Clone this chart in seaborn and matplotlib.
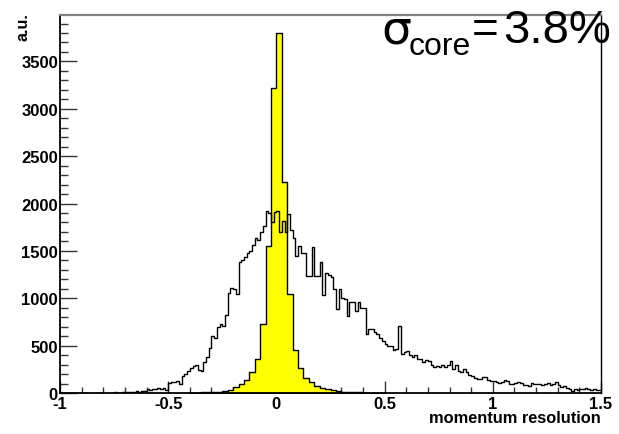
import numpy as np
import pandas as pd
import seaborn as sns
import matplotlib.pyplot as plt
from matplotlib.ticker import MultipleLocator, FixedLocator

# ---------------- data ----------------
# broad distribution: bins of 0.0125 from -1.0 to 1.5 (200 bins)
black_start = -1.0
black_width = 0.0125
black_counts = [
    0, 0, 0, 0, 0, 0, 0, 0,
    0, 0, 0, 0, 2, 0, 0, 3,
    4, 0, 5, 3, 8, 5, 0, 10,
    8, 12, 6, 15, 20, 12, 25, 18,
    40, 35, 45, 42, 50, 38, 55, 35,
    110, 120, 115, 130, 100, 180, 200, 230,
    260, 280, 300, 240, 230, 330, 380, 470,
    600, 580, 700, 730, 710, 820, 1060, 1110,
    1100, 1050, 1380, 1400, 1440, 1480, 1500, 1560,
    1640, 1620, 1700, 1760, 1920, 1900, 1800, 1910,
    1920, 1700, 1820, 1700, 1890, 1720, 1640, 1450,
    1550, 1480, 1480, 1240, 1240, 1540, 1240, 1230,
    1380, 1030, 1270, 1250, 1220, 1100, 890, 1100,
    1000, 990, 815, 960, 960, 870, 960, 900,
    900, 620, 680, 675, 640, 620, 580, 550,
    520, 500, 500, 450, 460, 710, 410, 430,
    446, 400, 380, 400, 360, 360, 330, 345,
    340, 300, 270, 290, 270, 300, 270, 300,
    340, 250, 300, 230, 220, 250, 220, 190,
    180, 160, 150, 150, 165, 170, 135, 130,
    125, 115, 110, 120, 135, 125, 100, 95,
    110, 115, 110, 85, 80, 75, 110, 100,
    90, 95, 80, 95, 110, 85, 100, 115,
    80, 60, 70, 50, 45, 25, 45, 30,
    45, 40, 50, 40, 35, 45, 30, 28,
]

# core distribution: bins of 0.025 from -0.4 to 0.5 (36 bins)
yellow_start = -0.4
yellow_width = 0.025
yellow_counts = [
    3, 5, 6, 10, 12, 15, 22, 35,
    60, 100, 140, 225, 360, 730, 1550, 3220,
    3800, 2225, 1040, 455, 265, 160, 115, 75,
    55, 40, 30, 20, 15, 10, 8, 6,
    5, 3, 2, 2,
]

xtick_values = [-1, -0.5, 0, 0.5, 1, 1.5]
xtick_labels = ['-1', '-0.5', '0', '0.5', '1', '1.5']
ytick_values = [0, 500, 1000, 1500, 2000, 2500, 3000, 3500]
ytick_labels = ['0', '500', '1000', '1500', '2000', '2500', '3000', '3500']
x_label = 'momentum resolution'
y_label = 'a.u.'
annot_value = '3.8%'

# ---------------- build tables ----------------
nb = len(black_counts)
black_edges = list(black_start + black_width * np.arange(nb + 1))
df_black = pd.DataFrame({'x': black_start + black_width * (np.arange(nb) + 0.5),
                         'w': black_counts})
ny = len(yellow_counts)
yellow_edges = list(yellow_start + yellow_width * np.arange(ny + 1))
df_yellow = pd.DataFrame({'x': yellow_start + yellow_width * (np.arange(ny) + 0.5),
                          'w': yellow_counts})

# ---------------- figure ----------------
sns.set_style('white')
plt.rcParams['font.family'] = ['Liberation Sans', 'DejaVu Sans']
plt.rcParams['text.color'] = 'black'
plt.rcParams['xtick.color'] = 'black'
plt.rcParams['ytick.color'] = 'black'

W, H = 619, 435
fig = plt.figure(figsize=(W / 100, H / 100), dpi=100)
ax = fig.add_axes([60 / W, 1 - 394 / H, (601 - 60) / W, (394 - 16) / H])

sns.histplot(data=df_yellow, x='x', weights='w', bins=yellow_edges,
             element='step', fill=True, color='#ffff00', edgecolor='black',
             linewidth=1.0, alpha=1, ax=ax, zorder=2)
sns.histplot(data=df_black, x='x', weights='w', bins=black_edges,
             element='step', fill=False, color='black', linewidth=1.0,
             ax=ax, zorder=3)

ax.set_xlim(-1, 1.5)
ax.set_ylim(0, 3990)
ax.set_xlabel('')
ax.set_ylabel('')

ax.xaxis.set_major_locator(FixedLocator(xtick_values))
ax.set_xticklabels(xtick_labels)
ax.xaxis.set_minor_locator(MultipleLocator(0.1))
ax.yaxis.set_major_locator(FixedLocator(ytick_values))
ax.set_yticklabels(ytick_labels)
ax.yaxis.set_minor_locator(MultipleLocator(100))

ax.tick_params(axis='x', which='both', direction='in', bottom=True, top=False,
               color='#333333', labelcolor='black', labelsize=12, pad=2.5, width=1)
ax.tick_params(axis='x', which='major', length=8.6)
ax.tick_params(axis='x', which='minor', length=4.3)
ax.tick_params(axis='y', which='both', direction='in', left=True, right=False,
               color='#333333', labelcolor='black', labelsize=12, pad=1.5, width=1)
ax.tick_params(axis='y', which='major', length=12)
ax.tick_params(axis='y', which='minor', length=5.8)
for lab in ax.get_xticklabels() + ax.get_yticklabels():
    lab.set_fontweight('bold')

for side in ['left', 'bottom', 'right']:
    ax.spines[side].set_color('black')
ax.spines['left'].set_linewidth(1.3)
ax.spines['bottom'].set_linewidth(1.3)
ax.spines['right'].set_linewidth(1.0)
ax.spines['top'].set_color('#808080')
ax.spines['top'].set_linewidth(1.6)

# axis titles
fig.text(601 / W, 1 - 423 / H, x_label, ha='right', va='baseline',
         fontsize=11.8, fontweight='bold', color='black')
fig.text(23 / W, 1 - 13 / H, y_label, ha='center', va='top', rotation=90,
         fontsize=11.5, fontweight='bold', color='black')

# sigma_core annotation
fig.text(381 / W, 1 - 43 / H, '\u03c3', ha='left', va='baseline',
         fontsize=34, family=['DejaVu Sans'], color='black')
fig.text(409 / W, 1 - 55 / H, 'core', ha='left', va='baseline', fontsize=23,
         color='black')
fig.text(472 / W, 1 - 43 / H, '=', ha='left', va='baseline', fontsize=33,
         color='black')
fig.text(503 / W, 1 - 43 / H, annot_value, ha='left', va='baseline',
         fontsize=34, color='black')

fig.savefig('out.png', dpi=100)
